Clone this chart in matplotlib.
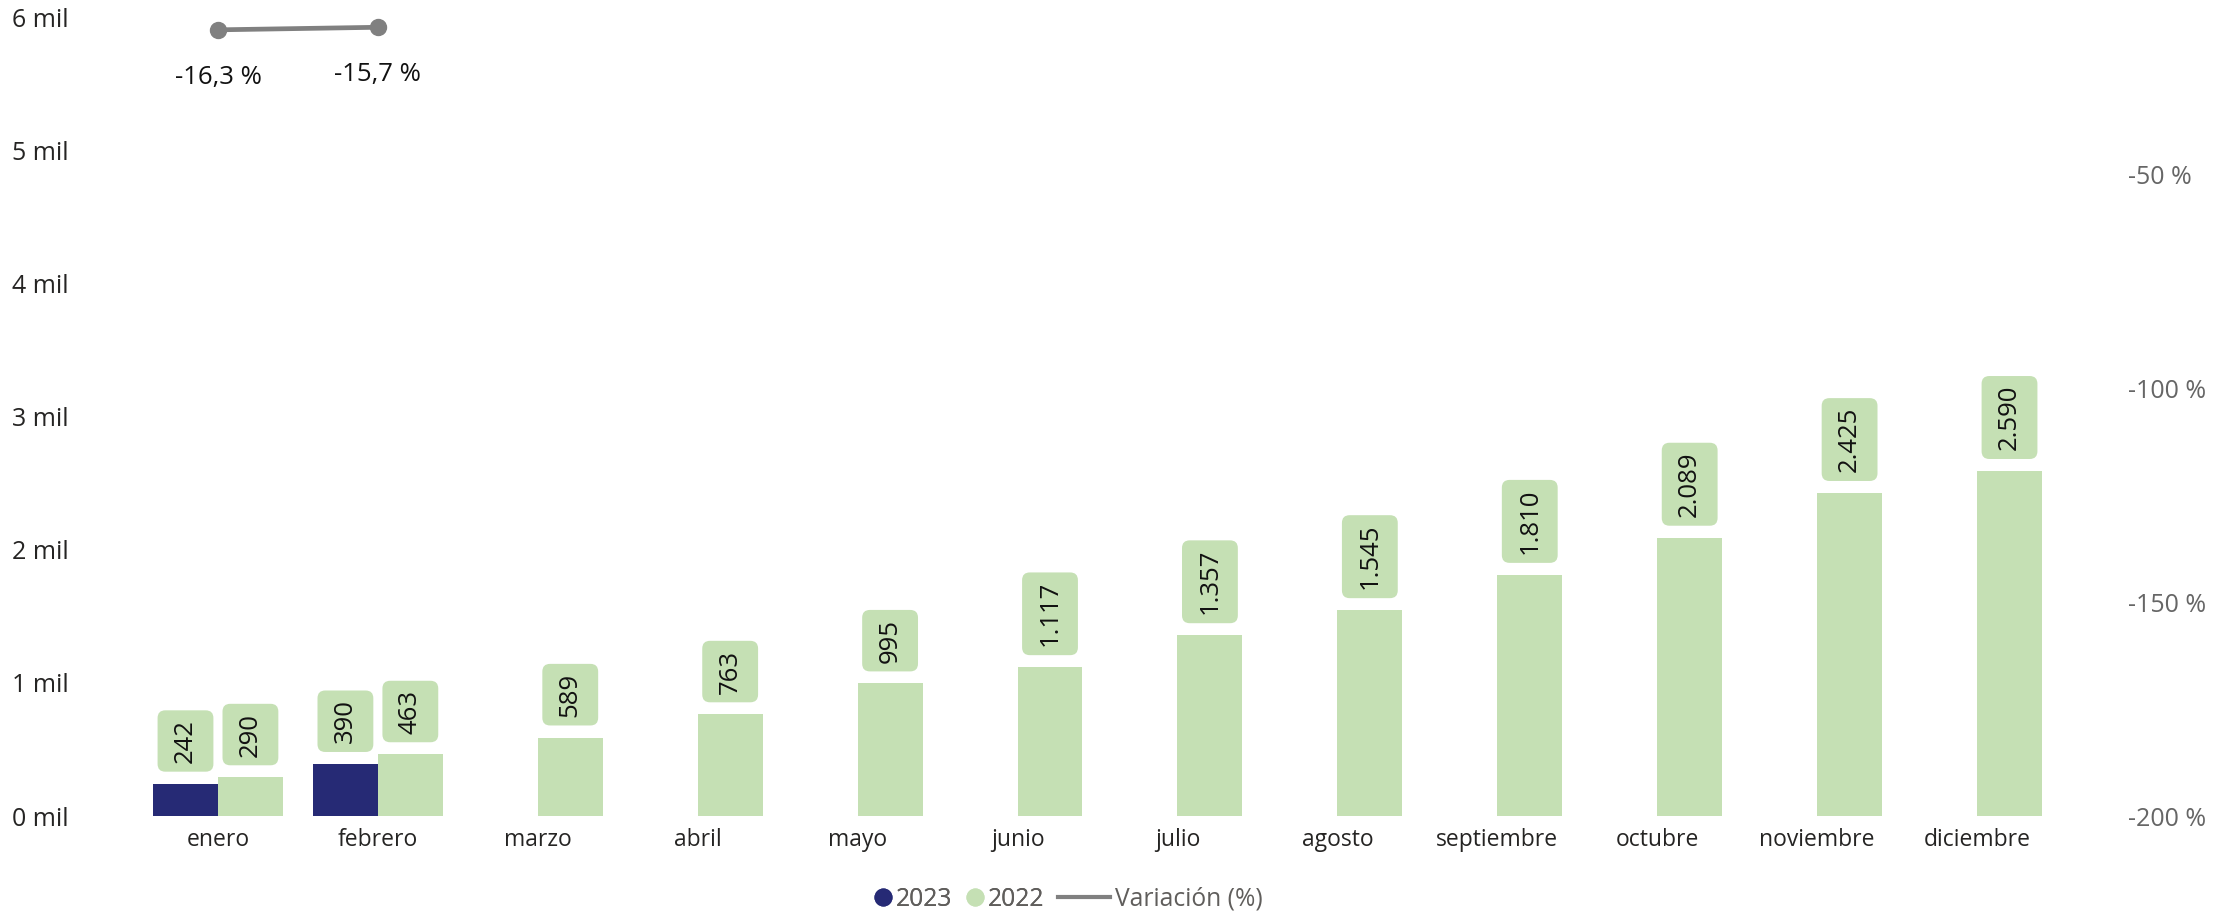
import matplotlib
matplotlib.use("Agg")
import matplotlib.pyplot as plt
from matplotlib.lines import Line2D
from matplotlib.patches import BoxStyle
from matplotlib.ticker import FuncFormatter
import numpy as np

plt.rcParams['font.family'] = ['Open Sans', 'DejaVu Sans']

meses = ["enero", "febrero", "marzo", "abril", "mayo", "junio", "julio",
         "agosto", "septiembre", "octubre", "noviembre", "diciembre"]
v2023 = [242, 390]
v2022 = [290, 463, 589, 763, 995, 1117, 1357, 1545, 1810, 2089, 2425, 2590]
variacion = [-16.3, -15.7]

c2023 = "#262A75"
c2022 = "#C5E0B4"
cline = "#808080"

fig = plt.figure(figsize=(22.3, 9.15), dpi=100)
ax = fig.add_axes([138 / 2230, 1 - 816 / 915, (2057 - 138) / 2230, (816 - 17) / 915])

x = np.arange(len(meses))
w = 0.406
ax.bar(x[:len(v2023)] - w / 2, v2023, width=w, color=c2023)
ax.bar(x + w / 2, v2022, width=w, color=c2022)

round_box = BoxStyle.Round(pad=0, rounding_size=0.3)


def label_box(x0, y0, width, height, mutation_size):
    # text is rotated: width runs along the bar, height across it
    pl = 0.34 * mutation_size
    pa = 0.6 * mutation_size
    return round_box(x0 - pl, y0 - pa, width + 2 * pl, height + 2 * pa, mutation_size)


def fmt_num(v):
    return f"{v:,}".replace(",", ".")


def data_label(xc, v):
    ax.annotate(fmt_num(v), (xc, v), xytext=(0, 15), textcoords="offset points",
                rotation=90, ha="center", va="bottom", fontsize=18.5, color="#111111",
                bbox=dict(boxstyle=label_box, fc=c2022, ec="none"))


for i, v in enumerate(v2023):
    data_label(x[i] - w / 2, v)
for i, v in enumerate(v2022):
    data_label(x[i] + w / 2, v)

ax.set_xlim(-0.5, len(meses) - 0.5)
ax.set_ylim(0, 6000)
ax.set_yticks(np.arange(0, 7000, 1000))
ax.yaxis.set_major_formatter(FuncFormatter(lambda v, p: f"{int(v / 1000)} mil"))
ax.set_xticks(x)
ax.set_xticklabels(meses)
ax.tick_params(axis="y", length=0, pad=50, labelsize=18, labelcolor="#252423")
ax.tick_params(axis="x", length=0, pad=9, labelsize=16.5, labelcolor="#252423")
for s in ax.spines.values():
    s.set_visible(False)

ax2 = ax.twinx()
ax2.plot(x[:len(variacion)], variacion, color=cline, lw=3.4, marker="o", ms=11.5,
         solid_capstyle="round")
for i, v in enumerate(variacion):
    ax2.annotate(f"{v:.1f} %".replace(".", ","), (x[i], v), xytext=(0, -34),
                 textcoords="offset points", ha="center", va="center",
                 fontsize=18.5, color="#111111")
ax2.set_ylim(-200, -13.3)
ax2.set_yticks([-200, -150, -100, -50])
ax2.yaxis.set_major_formatter(FuncFormatter(lambda v, p: f"{int(v)} %"))
ax2.tick_params(axis="y", length=0, pad=51, labelsize=18, labelcolor="#666666")
for s in ax2.spines.values():
    s.set_visible(False)

# legend
h1 = [Line2D([], [], ls="none", marker="o", ms=12, color=c2023),
      Line2D([], [], ls="none", marker="o", ms=12, color=c2022)]
leg1 = fig.legend(h1, ["2023", "2022"], loc="center right", bbox_to_anchor=(1044 / 2230, 16 / 915),
                  ncol=2, frameon=False, fontsize=17.7, handlelength=0.7, handletextpad=0.15,
                  columnspacing=0.6, borderpad=0, borderaxespad=0, labelcolor="#605E5C")
h2 = [Line2D([], [], color=cline, lw=3)]
fig.legend(h2, ["Variación (%)"], loc="center left", bbox_to_anchor=(1058 / 2230, 16 / 915),
           frameon=False, fontsize=17.7, handlelength=2.1, handletextpad=0.2,
           borderpad=0, borderaxespad=0, labelcolor="#605E5C")
fig.add_artist(leg1)

fig.savefig("out.png", dpi=100, facecolor="white")
